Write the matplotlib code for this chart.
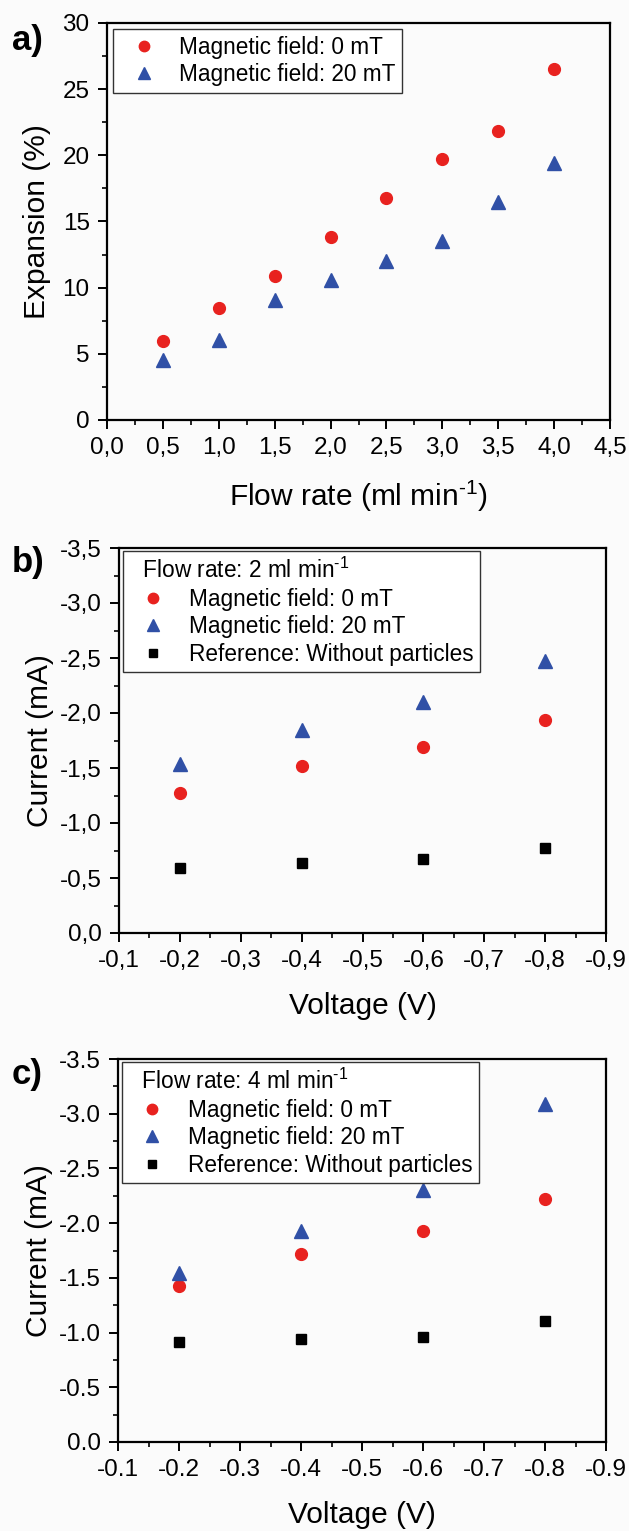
import matplotlib
matplotlib.use("Agg")
import matplotlib.pyplot as plt
from matplotlib.ticker import MultipleLocator, FixedLocator, FixedFormatter

plt.rcParams['font.family'] = ['Liberation Sans', 'DejaVu Sans']
plt.rcParams['mathtext.default'] = 'regular'
plt.rcParams['axes.unicode_minus'] = False

# ---------------- data ----------------
flow_rate = [0.5, 1.0, 1.5, 2.0, 2.5, 3.0, 3.5, 4.0]
expansion_0mT = [6.0, 8.45, 10.85, 13.85, 16.8, 19.75, 21.85, 26.55]
expansion_20mT = [4.55, 6.05, 9.05, 10.55, 12.0, 13.5, 16.5, 19.45]

voltage = [-0.2, -0.4, -0.6, -0.8]
current_b_0mT = [-1.27, -1.52, -1.69, -1.94]
current_b_20mT = [-1.54, -1.85, -2.10, -2.47]
current_b_ref = [-0.59, -0.64, -0.67, -0.77]

current_c_0mT = [-1.43, -1.72, -1.93, -2.22]
current_c_20mT = [-1.54, -1.93, -2.30, -3.09]
current_c_ref = [-0.91, -0.94, -0.96, -1.11]

a_xticks = [0.0, 0.5, 1.0, 1.5, 2.0, 2.5, 3.0, 3.5, 4.0, 4.5]
a_xticklabels = ['0,0', '0,5', '1,0', '1,5', '2,0', '2,5', '3,0', '3,5', '4,0', '4,5']
a_yticks = [0, 5, 10, 15, 20, 25, 30]
a_yticklabels = ['0', '5', '10', '15', '20', '25', '30']

v_ticks = [-0.1, -0.2, -0.3, -0.4, -0.5, -0.6, -0.7, -0.8, -0.9]
b_xticklabels = ['-0,1', '-0,2', '-0,3', '-0,4', '-0,5', '-0,6', '-0,7', '-0,8', '-0,9']
c_xticklabels = ['-0.1', '-0.2', '-0.3', '-0.4', '-0.5', '-0.6', '-0.7', '-0.8', '-0.9']
i_ticks = [0.0, -0.5, -1.0, -1.5, -2.0, -2.5, -3.0, -3.5]
b_yticklabels = ['0,0', '-0,5', '-1,0', '-1,5', '-2,0', '-2,5', '-3,0', '-3,5']
c_yticklabels = ['0.0', '-0.5', '-1.0', '-1.5', '-2.0', '-2.5', '-3.0', '-3.5']

labels_series = ['Magnetic field: 0 mT', 'Magnetic field: 20 mT', 'Reference: Without particles']
SUP = '$^{\u2010' + '1}$'

# ---------------- style ----------------
RED = '#e8221f'
BLUE = '#3050a6'
BLACK = '#000000'
BG = '#fbfbfb'
TICK_FS = 17.5
LABEL_FS = 21.5
LEG_FS = 16.3
TAG_FS = 25

W, H = 629, 1531
fig = plt.figure(figsize=(W / 100, H / 100), dpi=100, facecolor=BG)


def rect(l, r, top, bottom):
    return [l / W, 1 - bottom / H, (r - l) / W, (bottom - top) / H]


def style_axes(ax):
    ax.set_facecolor(BG)
    for s in ax.spines.values():
        s.set_linewidth(1.6)
    ax.tick_params(which='major', direction='out', length=6.5, width=1.4,
                   labelsize=TICK_FS, top=False, right=False, pad=6)
    ax.tick_params(which='minor', direction='out', length=3.5, width=1.2,
                   top=False, right=False)


def make_legend(ax, anchor, title=None):
    leg = ax.legend(loc='upper left', bbox_to_anchor=anchor, fontsize=LEG_FS,
                    frameon=True, fancybox=False, framealpha=1, edgecolor='#333333',
                    handletextpad=0.5, borderpad=0.3, labelspacing=0.2,
                    handlelength=2.1, borderaxespad=0, title=title,
                    title_fontsize=LEG_FS, alignment='left', markerscale=0.88)
    leg.get_frame().set_linewidth(1.0)
    return leg


# ---------------- panel a ----------------
ax1 = fig.add_axes(rect(107, 610, 23, 420))
style_axes(ax1)
ax1.plot(flow_rate, expansion_0mT, 'o', color=RED, ms=8.5, mec=RED,
         label=labels_series[0], clip_on=False)
ax1.plot(flow_rate, expansion_20mT, '^', color=BLUE, ms=10.5, mec=BLUE,
         label=labels_series[1], clip_on=False)
ax1.set_xlim(0, 4.5)
ax1.set_ylim(0, 30)
ax1.xaxis.set_major_locator(FixedLocator(a_xticks))
ax1.xaxis.set_major_formatter(FixedFormatter(a_xticklabels))
ax1.yaxis.set_major_locator(FixedLocator(a_yticks))
ax1.yaxis.set_major_formatter(FixedFormatter(a_yticklabels))
ax1.xaxis.set_minor_locator(MultipleLocator(0.25))
ax1.yaxis.set_minor_locator(MultipleLocator(2.5))
ax1.set_xlabel('Flow rate (ml min' + SUP + ')', fontsize=LABEL_FS, labelpad=14)
ax1.set_ylabel('Expansion (%)', fontsize=LABEL_FS, labelpad=8)
make_legend(ax1, (0.012, 0.985))
fig.text(12 / W, 1 - 24 / H, 'a)', fontsize=TAG_FS, fontweight='bold', va='top', ha='left')


# ---------------- panels b, c ----------------
def iv_panel(left, top, bottom, s0, s20, sref, xtl, ytl, title, tag, tag_y):
    ax = fig.add_axes(rect(left, 606, top, bottom))
    style_axes(ax)
    ax.plot(voltage, s0, 'o', color=RED, ms=8.5, mec=RED, label=labels_series[0])
    ax.plot(voltage, s20, '^', color=BLUE, ms=10.5, mec=BLUE, label=labels_series[1])
    ax.plot(voltage, sref, 's', color=BLACK, ms=7.2, mec=BLACK, label=labels_series[2])
    ax.set_xlim(-0.1, -0.9)
    ax.set_ylim(0, -3.5)
    ax.xaxis.set_major_locator(FixedLocator(v_ticks))
    ax.xaxis.set_major_formatter(FixedFormatter(xtl))
    ax.yaxis.set_major_locator(FixedLocator(i_ticks))
    ax.yaxis.set_major_formatter(FixedFormatter(ytl))
    ax.xaxis.set_minor_locator(MultipleLocator(0.05))
    ax.yaxis.set_minor_locator(MultipleLocator(0.25))
    ax.set_xlabel('Voltage (V)', fontsize=LABEL_FS, labelpad=14)
    ax.set_ylabel('Current (mA)', fontsize=LABEL_FS, labelpad=4)
    make_legend(ax, (0.008, 0.992), title=title)
    fig.text(12 / W, 1 - tag_y / H, tag, fontsize=TAG_FS, fontweight='bold', va='top', ha='left')
    return ax


iv_panel(119, 548, 933, current_b_0mT, current_b_20mT, current_b_ref,
         b_xticklabels, b_yticklabels, '  Flow rate: 2 ml min' + SUP, 'b)', 546)
iv_panel(118, 1059, 1442, current_c_0mT, current_c_20mT, current_c_ref,
         c_xticklabels, c_yticklabels, '  Flow rate: 4 ml min' + SUP, 'c)', 1058)

fig.savefig('out.png', dpi=100, facecolor=BG)
